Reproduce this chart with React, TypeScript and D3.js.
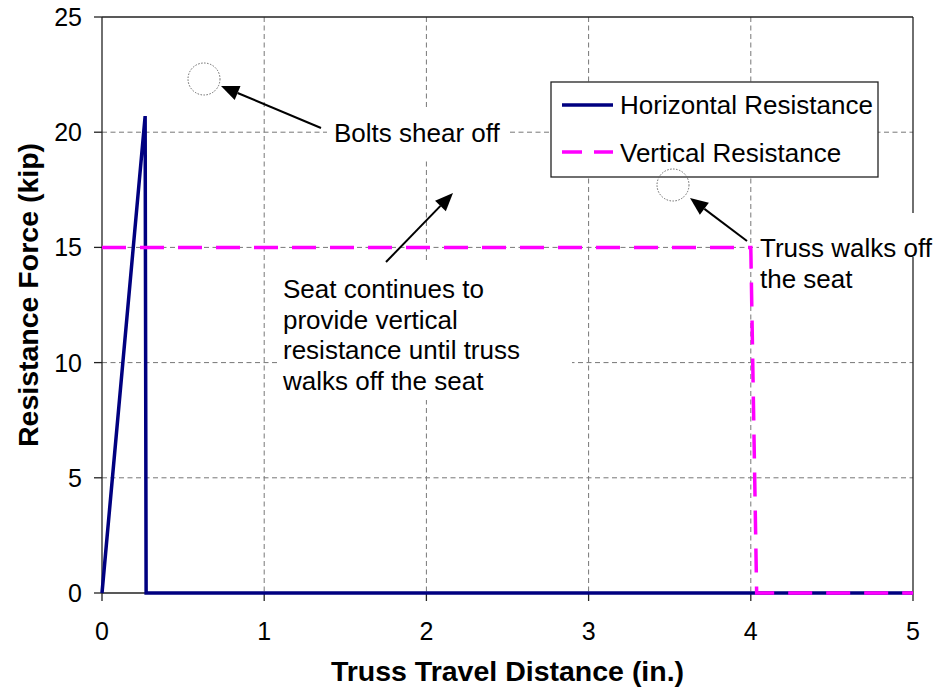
import { line, scaleLinear } from 'd3';

const horizX = [0, 0.266, 0.272, 5];
const horizY = [0, 20.7, 0, 0];
const vertX = [0, 4.0, 4.036, 5];
const vertY = [15, 15, 0, 0];
const xTicks = [0, 1, 2, 3, 4, 5];
const yTicks = [0, 5, 10, 15, 20, 25];
const seriesNames = ['Horizontal Resistance', 'Vertical Resistance'];
const seatNote = [
  'Seat continues to',
  'provide vertical',
  'resistance until truss',
  'walks off the seat',
];
const walkNote = ['Truss walks off', 'the seat'];

const W = 943;
const H = 692;
const margin = { top: 17, right: 30, bottom: 99, left: 102 };
const font = '"Liberation Sans", Arial, sans-serif';

export default function App() {
  const x = scaleLinear()
    .domain([0, 5])
    .range([margin.left, W - margin.right]);
  const y = scaleLinear()
    .domain([0, 25])
    .range([H - margin.bottom, margin.top]);

  const pts = (xs: number[], ys: number[]) => xs.map((v, i) => [v, ys[i]] as [number, number]);
  const lineGen = line<[number, number]>()
    .x((d) => x(d[0]))
    .y((d) => y(d[1]));

  const grid = '#777';
  const x0 = x(0);
  const x1 = x(5);
  const y0 = y(0);
  const y1 = y(25);

  // arrow from (fx,fy) pointing at (tx,ty)
  const arrow = (tx: number, ty: number, fx: number, fy: number, key: string) => {
    const ang = Math.atan2(ty - fy, tx - fx);
    const len = 18;
    const half = 7.5;
    const bx = tx - len * Math.cos(ang);
    const by = ty - len * Math.sin(ang);
    const px = -Math.sin(ang) * half;
    const py = Math.cos(ang) * half;
    return (
      <g key={key}>
        <line x1={fx} y1={fy} x2={bx} y2={by} stroke='#000' strokeWidth={2} />
        <polygon
          points={`${tx},${ty} ${bx + px},${by + py} ${bx - px},${by - py}`}
          fill='#000'
        />
      </g>
    );
  };

  return (
    <svg
      width={W}
      height={H}
      style={{ position: 'absolute', left: 0, top: 0, background: '#fff' }}
      fontFamily={font}>
      {/* grid */}
      <g stroke={grid} strokeWidth={1} strokeDasharray='5,3.5'>
        {xTicks.slice(1, -1).map((t) => (
          <line key={'gx' + t} x1={x(t)} x2={x(t)} y1={y1} y2={y0} />
        ))}
        {yTicks.slice(1, -1).map((t) => (
          <line key={'gy' + t} x1={x0} x2={x1} y1={y(t)} y2={y(t)} />
        ))}
      </g>

      {/* frame */}
      <g stroke='#222' strokeWidth={1.3} fill='none'>
        <line x1={x0} x2={x0} y1={y1} y2={y0} />
        <line x1={x0} x2={x1} y1={y0} y2={y0} />
        <line x1={x0} x2={x1} y1={y1} y2={y1} />
        <line x1={x1} x2={x1} y1={y1} y2={y0} />
        {xTicks.map((t) => (
          <line key={'tx' + t} x1={x(t)} x2={x(t)} y1={y0} y2={y0 + 8} />
        ))}
        {yTicks.map((t) => (
          <line key={'ty' + t} x1={x0 - 8} x2={x0} y1={y(t)} y2={y(t)} />
        ))}
      </g>

      {/* white label boxes over the grid */}
      <rect x={327} y={108} width={183} height={50} fill='#fff' />
      <rect x={278} y={262} width={294} height={138} fill='#fff' />
      <rect x={759} y={213} width={184} height={44} fill='#fff' />

      {/* series */}
      <path
        d={lineGen(pts(horizX, horizY)) || ''}
        fill='none'
        stroke='#000080'
        strokeWidth={3.5}
      />
      <path
        d={lineGen(pts(vertX, vertY)) || ''}
        fill='none'
        stroke='#ff00ff'
        strokeWidth={3.5}
        strokeDasharray='24,14'
      />

      {/* tick labels */}
      <g fontSize={25} fill='#000'>
        {xTicks.map((t) => (
          <text key={'lx' + t} x={x(t)} y={y0 + 47} textAnchor='middle'>
            {t}
          </text>
        ))}
        {yTicks.map((t) => (
          <text key={'ly' + t} x={x0 - 20} y={y(t) + 9} textAnchor='end'>
            {t}
          </text>
        ))}
      </g>

      {/* axis titles */}
      <text
        x={(x0 + x1) / 2}
        y={681}
        textAnchor='middle'
        fontSize={28.5}
        fontWeight='bold'>
        Truss Travel Distance (in.)
      </text>
      <text
        transform={`translate(38, 295) rotate(-90)`}
        textAnchor='middle'
        fontSize={28.5}
        fontWeight='bold'>
        Resistance Force (kip)
      </text>

      {/* legend */}
      <rect x={551} y={82} width={327} height={95} fill='#fff' stroke='#222' strokeWidth={1.3} />
      <line x1={562} x2={613} y1={105} y2={105} stroke='#000080' strokeWidth={3.5} />
      <line
        x1={562}
        x2={613}
        y1={152}
        y2={152}
        stroke='#ff00ff'
        strokeWidth={3.5}
        strokeDasharray='20,12'
      />
      <g fontSize={26}>
        <text x={620} y={114}>
          {seriesNames[0]}
        </text>
        <text x={620} y={162}>
          {seriesNames[1]}
        </text>
      </g>

      {/* annotations */}
      <g fill='none' stroke='#666' strokeWidth={1} strokeDasharray='1.5,1.5'>
        <circle cx={204} cy={79} r={16} />
        <circle cx={673} cy={185} r={16} />
      </g>
      {arrow(221, 86, 321, 128, 'a1')}
      {arrow(690, 198, 747, 241, 'a2')}
      {arrow(453, 193, 386, 262, 'a3')}

      <g fontSize={26} fill='#000'>
        <text x={334} y={142}>
          Bolts shear off
        </text>
        {seatNote.map((s, i) => (
          <text key={s} x={283} y={298 + i * 30.7}>
            {s}
          </text>
        ))}
        {walkNote.map((s, i) => (
          <text key={s} x={760} y={257 + i * 31}>
            {s}
          </text>
        ))}
      </g>
    </svg>
  );
}
